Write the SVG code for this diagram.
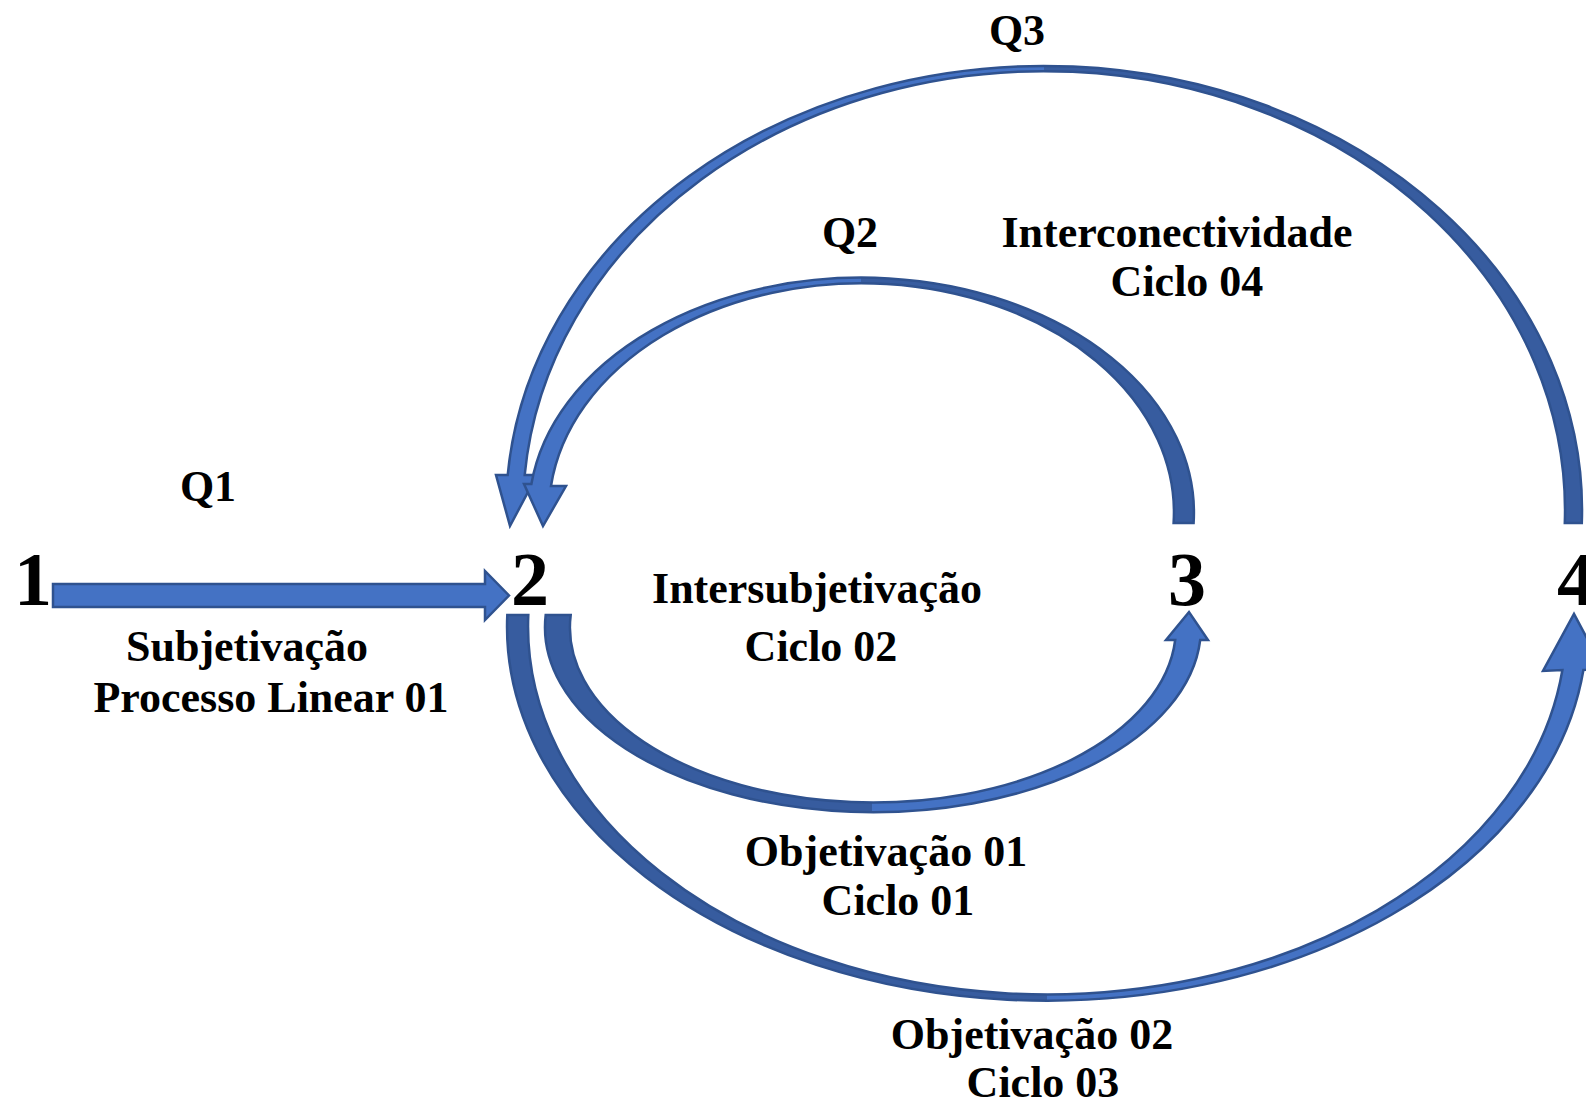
<svg xmlns="http://www.w3.org/2000/svg" width="1586" height="1105" viewBox="0 0 1586 1105">
<style>
.arr{stroke:#2F528F;stroke-width:2.5;stroke-linejoin:miter}
.t{font-family:"Liberation Serif","Times New Roman",serif;font-weight:bold;font-size:44px;fill:#000;text-anchor:middle}
.num{font-family:"Liberation Serif","Times New Roman",serif;font-weight:bold;font-size:76px;fill:#000;text-anchor:middle}
</style>
<defs>
<linearGradient id="gQ3" gradientUnits="userSpaceOnUse" x1="0" y1="0" x2="1586" y2="0">
<stop offset="0" stop-color="#4472C4"/><stop offset="0.658" stop-color="#4472C4"/><stop offset="0.658" stop-color="#375C9F"/><stop offset="1" stop-color="#375C9F"/>
</linearGradient>
<linearGradient id="gQ2" gradientUnits="userSpaceOnUse" x1="0" y1="0" x2="1586" y2="0">
<stop offset="0" stop-color="#4472C4"/><stop offset="0.543" stop-color="#4472C4"/><stop offset="0.543" stop-color="#375C9F"/><stop offset="1" stop-color="#375C9F"/>
</linearGradient>
<linearGradient id="gC1" gradientUnits="userSpaceOnUse" x1="0" y1="0" x2="1586" y2="0">
<stop offset="0" stop-color="#375C9F"/><stop offset="0.55" stop-color="#375C9F"/><stop offset="0.55" stop-color="#4472C4"/><stop offset="1" stop-color="#4472C4"/>
</linearGradient>
<linearGradient id="gC3" gradientUnits="userSpaceOnUse" x1="0" y1="0" x2="1586" y2="0">
<stop offset="0" stop-color="#375C9F"/><stop offset="0.66" stop-color="#375C9F"/><stop offset="0.66" stop-color="#4472C4"/><stop offset="1" stop-color="#4472C4"/>
</linearGradient>
</defs>
<rect width="1586" height="1105" fill="#fff"/>
<g id="connectors">
<polygon id="e12" class="arr" fill="#4472C4" points="53,584 485,584 485,571 509,595.5 485,620 485,607 53,607"/>
<path id="e42" class="arr" fill="url(#gQ3)" d="M1581.8,523 A538,444 0 0 0 507.7,475 L496,475 L510,526 L537,475 L524.7,475 A521,439 0 0 1 1564.8,523 Z"/>
<path id="e32" class="arr" fill="url(#gQ2)" d="M1193.6,523 A332.5,235 0 0 0 531.4,484 L524,484 L543,526 L566,486 L551,486 A312.5,229 0 0 1 1173.6,523 Z"/>
<path id="e23" class="arr" fill="url(#gC1)" d="M545.7,615 A328,185 0 0 0 1200.2,640 L1208,640 L1189,612 L1166,640 L1175.2,640 A303,175 0 0 1 570.7,615 Z"/>
<path id="e24" class="arr" fill="url(#gC3)" d="M507.3,615 A540,374 0 0 0 1583.4,670 L1603,668 L1574,614 L1543,671 L1562.4,670 A519,368 0 0 1 528.3,615 Z"/>
</g>
<g id="labels">
<text class="t" x="208" y="501">Q1</text>
<text class="t" x="850" y="247">Q2</text>
<text class="t" x="1017" y="45">Q3</text>
<text class="t" x="1177" y="247">Interconectividade</text>
<text class="t" x="1187" y="296">Ciclo 04</text>
<text class="t" x="817" y="603">Intersubjetivação</text>
<text class="t" x="821" y="661">Ciclo 02</text>
<text class="t" x="247" y="661">Subjetivação</text>
<text class="t" x="271" y="712">Processo Linear 01</text>
<text class="t" x="886" y="866">Objetivação 01</text>
<text class="t" x="898" y="915">Ciclo 01</text>
<text class="t" x="1032" y="1049">Objetivação 02</text>
<text class="t" x="1043" y="1097">Ciclo 03</text>
</g>
<g id="n1"><text class="num" x="33" y="605">1</text></g>
<g id="n2"><text class="num" x="530" y="605">2</text></g>
<g id="n3"><text class="num" x="1187" y="605">3</text></g>
<g id="n4"><text class="num" x="1576" y="605">4</text></g>
</svg>
